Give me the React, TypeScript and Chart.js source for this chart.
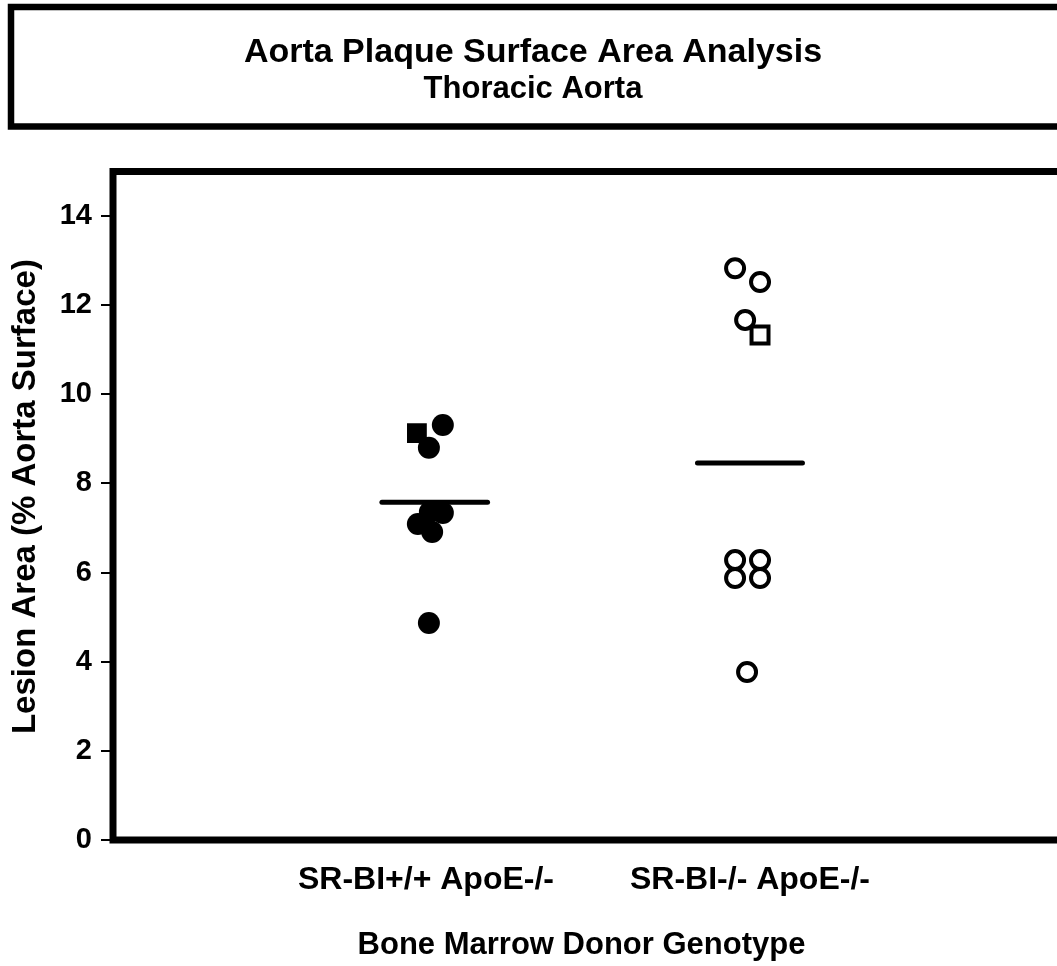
import React, { useEffect, useRef } from "react";
import { Chart, registerables } from "chart.js";

Chart.register(...registerables);

// ---- data ----
const titleText = "Aorta Plaque Surface Area Analysis";
const subtitleText = "Thoracic Aorta";
const yAxisTitle = "  Lesion Area (% Aorta Surface)";
const xAxisTitle = "Bone Marrow Donor Genotype";

const categoryLabels = ["SR-BI+/+ ApoE-/-", "SR-BI-/- ApoE-/-"];
const categoryPositions = [1, 2];

// SR-BI+/+ ApoE-/- donors (filled markers)
const wtCircleX = [1.052, 1.009, 0.975, 1.052, 1.019, 1.012, 1.009];
const wtCircleY = [9.31, 8.8, 7.09, 7.34, 6.91, 7.36, 4.87];
const wtSquareX = [0.972];
const wtSquareY = [9.13];
const wtMeanX = [0.864, 1.19];
const wtMeanY = [7.58, 7.58];

// SR-BI-/- ApoE-/- donors (open markers)
const koCircleX = [1.954, 2.031, 1.985, 1.954, 2.031, 1.954, 2.031, 1.991];
const koCircleY = [12.83, 12.52, 11.67, 6.28, 6.28, 5.88, 5.88, 3.77];
const koSquareX = [2.031];
const koSquareY = [11.33];
const koMeanX = [1.838, 2.162];
const koMeanY = [8.46, 8.46];

const xMin = 0.034;
const xMax = 2.926;
const yMin = 0;
const yMax = 15;
const yStep = 2;

const pts = (xs: number[], ys: number[]) => xs.map((x, i) => ({ x, y: ys[i] }));

const FONT = "'Liberation Sans', Arial, Helvetica, sans-serif";

const framePlugin = {
  id: "frames",
  beforeDatasetsDraw(chart: any) {
    const { ctx, chartArea: a } = chart;
    ctx.save();
    ctx.strokeStyle = "#000";
    ctx.lineWidth = 7;
    ctx.strokeRect(a.left, a.top, chart.width + 20 - a.left, a.bottom - a.top);
    ctx.lineWidth = 6.5;
    ctx.strokeRect(11, 7, chart.width + 20, 119.5);
    ctx.restore();
  },
};

export default function App() {
  const ref = useRef<HTMLCanvasElement | null>(null);

  useEffect(() => {
    if (!ref.current) return;
    const chart = new Chart(ref.current, {
      type: "scatter",
      data: {
        datasets: [
          {
            label: "mean +/+",
            data: pts(wtMeanX, wtMeanY),
            showLine: true,
            borderColor: "#000",
            borderWidth: 5,
            borderCapStyle: "round",
            pointRadius: 0,
            order: 0,
          },
          {
            label: "mean -/-",
            data: pts(koMeanX, koMeanY),
            showLine: true,
            borderColor: "#000",
            borderWidth: 5,
            borderCapStyle: "round",
            pointRadius: 0,
            order: 0,
          },
          {
            label: "SR-BI+/+ circles",
            data: pts(wtCircleX, wtCircleY),
            pointStyle: "circle",
            pointRadius: 11,
            backgroundColor: "#000",
            borderColor: "#000",
            borderWidth: 0,
            order: 1,
          },
          {
            label: "SR-BI+/+ square",
            data: pts(wtSquareX, wtSquareY),
            pointStyle: "rect",
            pointRadius: 14,
            backgroundColor: "#000",
            borderColor: "#000",
            borderWidth: 0,
            order: 1,
          },
          {
            label: "SR-BI-/- circles",
            data: pts(koCircleX, koCircleY),
            pointStyle: "circle",
            pointRadius: 9,
            backgroundColor: "#fff",
            borderColor: "#000",
            borderWidth: 4,
            order: 1,
          },
          {
            label: "SR-BI-/- square",
            data: pts(koSquareX, koSquareY),
            pointStyle: "rect",
            pointRadius: 12,
            backgroundColor: "#fff",
            borderColor: "#000",
            borderWidth: 4,
            order: 1,
          },
        ],
      },
      options: {
        responsive: false,
        animation: false,
        devicePixelRatio: 1,
        layout: { padding: 0 },
        plugins: {
          legend: { display: false },
          tooltip: { enabled: false },
          title: {
            display: true,
            text: titleText,
            color: "#000",
            font: { family: FONT, size: 34, weight: "bold", lineHeight: 1.1 },
            padding: { top: 34.3, bottom: 0 },
          },
          subtitle: {
            display: true,
            text: subtitleText,
            color: "#000",
            font: { family: FONT, size: 31, weight: "bold", lineHeight: 1.0 },
            padding: { top: 2.3, bottom: 66.5 },
          },
        },
        scales: {
          x: {
            type: "linear",
            min: xMin,
            max: xMax,
            afterBuildTicks: (s: any) => {
              s.ticks = categoryPositions.map((v) => ({ value: v }));
            },
            afterFit: (s: any) => {
              s.height = 126;
            },
            ticks: {
              autoSkip: false,
              maxRotation: 0,
              color: "#000",
              padding: 21,
              font: { family: FONT, size: 32, weight: "bold", lineHeight: 1.2 },
              callback: (v: any) => {
                const i = categoryPositions.indexOf(Number(v));
                return i >= 0 ? categoryLabels[i] : "";
              },
            },
            grid: { display: false, drawTicks: false },
            border: { display: false },
            title: {
              display: true,
              text: xAxisTitle,
              color: "#000",
              font: { family: FONT, size: 31, weight: "bold", lineHeight: 1.2 },
              padding: { top: 0, bottom: 2.4 },
            },
          },
          y: {
            type: "linear",
            min: yMin,
            max: yMax,
            afterFit: (s: any) => {
              s.width = 113;
            },
            ticks: {
              stepSize: yStep,
              includeBounds: false,
              color: "#000",
              padding: 9,
              font: { family: FONT, size: 29, weight: "bold", lineHeight: 1.2 },
            },
            grid: {
              display: true,
              drawOnChartArea: false,
              drawTicks: true,
              tickLength: 12,
              lineWidth: 2,
              color: "#000",
            },
            border: { display: false },
            title: {
              display: true,
              text: yAxisTitle,
              color: "#000",
              font: { family: FONT, size: 33, weight: "bold", lineHeight: 1.2 },
              padding: { top: 5.7, bottom: 0 },
            },
          },
        },
      },
      plugins: [framePlugin],
    } as any);
    return () => chart.destroy();
  }, []);

  return (
    <div
      style={{
        position: "fixed",
        left: 0,
        top: 0,
        width: 1057,
        height: 966,
        overflow: "hidden",
        background: "#fff",
      }}
    >
      <canvas ref={ref} width={1066} height={966} style={{ display: "block" }} />
    </div>
  );
}
